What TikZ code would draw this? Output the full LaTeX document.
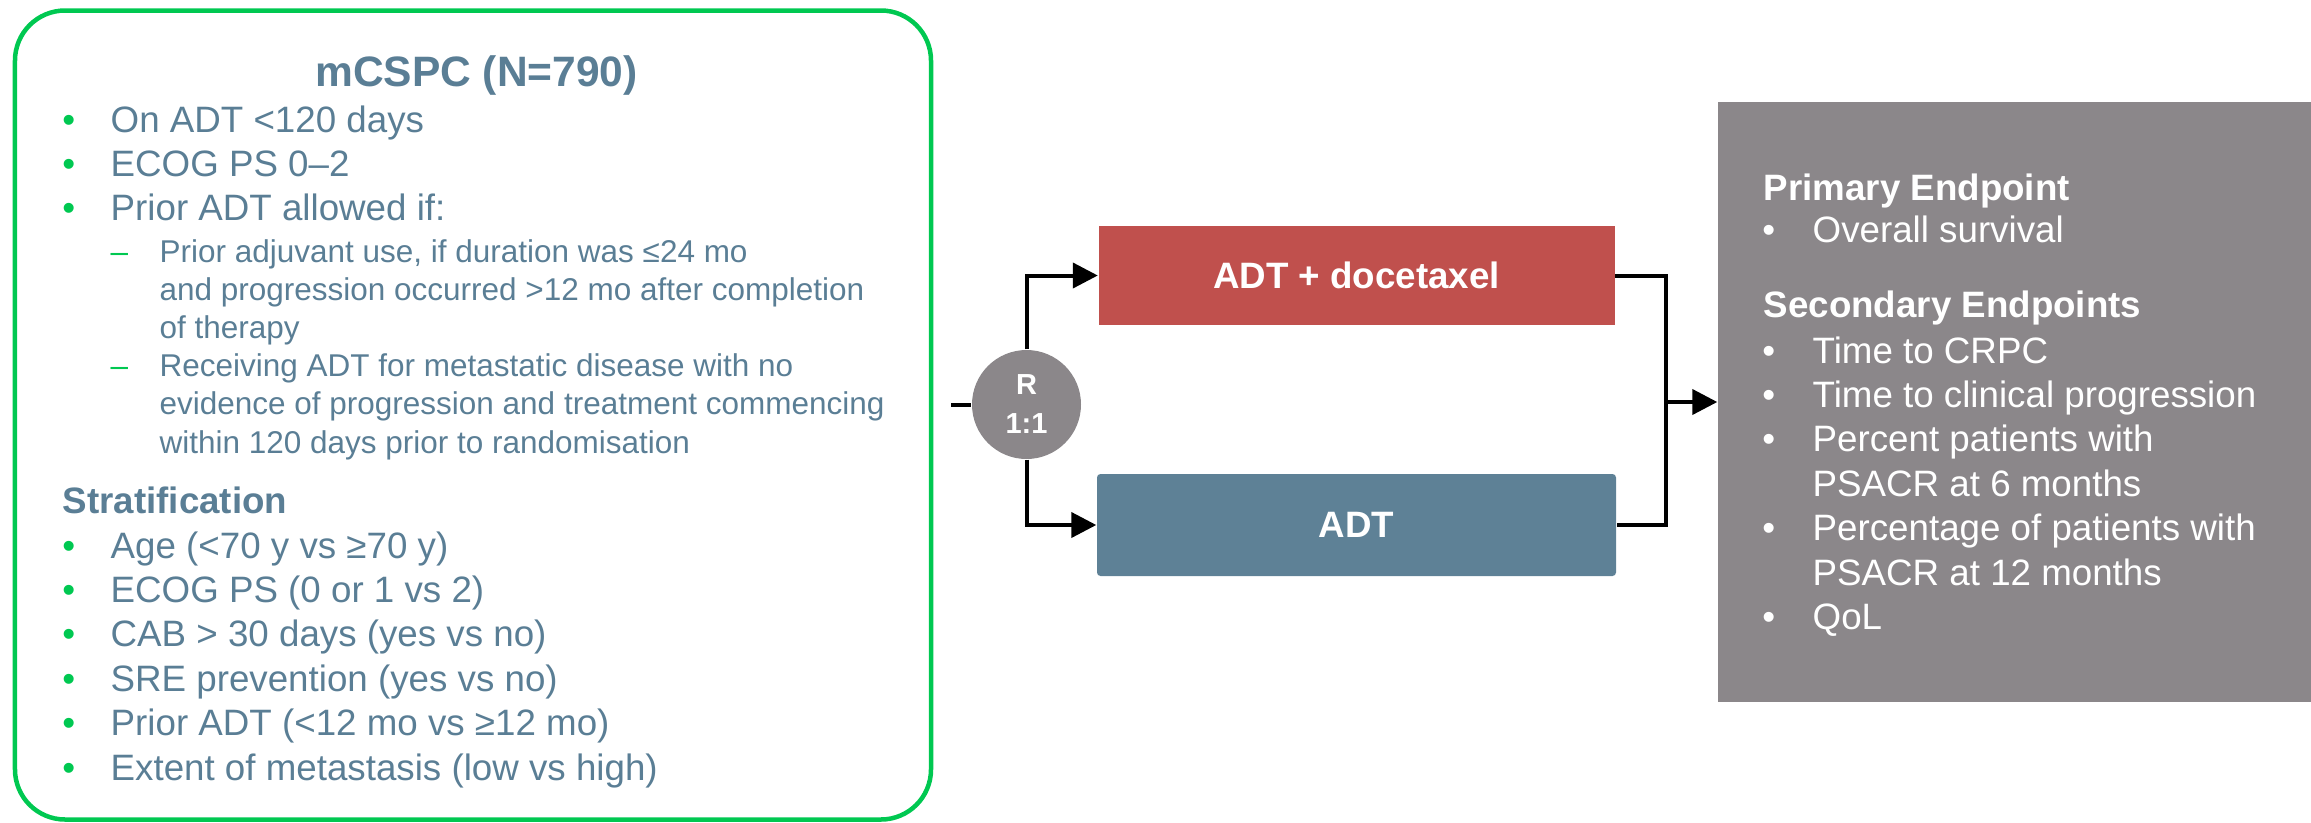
\documentclass[tikz,border=0pt]{standalone}
\usepackage{fontspec}
\setmainfont{Liberation Sans}
\usetikzlibrary{calc,positioning,arrows.meta}

\definecolor{slate}{RGB}{90,126,149}
\definecolor{leafgreen}{RGB}{0,200,81}
\definecolor{armred}{RGB}{192,80,77}
\definecolor{armblue}{RGB}{94,129,150}
\definecolor{stonegrey}{RGB}{139,135,138}

\newcommand{\mainsize}{\fontsize{10.45pt}{12.66pt}\selectfont}
\newcommand{\subsize}{\fontsize{8.96pt}{10.87pt}\selectfont}
\newcommand{\gdot}{\textcolor{leafgreen}{•}}
\newcommand{\gdash}{\textcolor{leafgreen}{–}}

\tikzset{
  txt/.style={inner sep=0pt, anchor=base west, text=slate, font=\mainsize},
  head/.style={txt, font=\mainsize\bfseries},
  arm/.style={rectangle, inner sep=0pt, minimum width=5.16cm, minimum height=0.99cm, text=white, font=\mainsize\bfseries},
  wire/.style={line width=0.04cm},
  link/.style={wire, -{Triangle[length=0.25cm,width=0.25cm]}},
}

\begin{document}
\begin{tikzpicture}
	\useasboundingbox (0,0) rectangle (23.11,-8.22);

	% patient population
	\node[draw=leafgreen, line width=0.045cm, rounded corners=0.5cm, minimum width=9.16cm, minimum height=8.09cm] (panel) at (4.73,-4.15) {};
	\node[txt, anchor=base, font=\fontsize{12.1pt}{14pt}\selectfont\bfseries] (title) at (4.765,-0.86) {mCSPC (N=790)};
	\node[txt] (elig) at (0.616,-1.32) {\begin{tabular}[t]{@{}p{0.484cm}@{}l@{}}
			\gdot & On ADT <120 days\\
			\gdot & ECOG PS 0–2\\
			\gdot & Prior ADT allowed if:
		\end{tabular}};
	\node[txt, font=\subsize] (prior) at (1.10,-2.62) {\begin{tabular}[t]{@{}p{0.49cm}@{}l@{}}
			\gdash & Prior adjuvant use, if duration was ≤24 mo\\
			& and progression occurred >12 mo after completion\\
			& of therapy\\
			\gdash & Receiving ADT for metastatic disease with no\\
			& evidence of progression and treatment commencing\\
			& within 120 days prior to randomisation
		\end{tabular}};
	\node[head] (strat) at (0.62,-5.13) {Stratification};
	\node[txt] (factors) at (0.616,-5.58) {\begin{tabular}[t]{@{}p{0.484cm}@{}l@{}}
			\gdot & Age (<70 y vs ≥70 y)\\
			\gdot & ECOG PS (0 or 1 vs 2)\\
			\gdot & CAB > 30 days (yes vs no)\\
			\gdot & SRE prevention (yes vs no)\\
			\gdot & Prior ADT (<12 mo vs ≥12 mo)\\
			\gdot & Extent of metastasis (low vs high)
		\end{tabular}};

	% randomisation and arms
	\node[circle, fill=stonegrey, minimum size=1.09cm, inner sep=0pt, text=white, align=center, font=\fontsize{8.25pt}{11.1pt}\selectfont\bfseries] (rand) at (10.265,-4.045) {R\\1:1};
	\node[arm, fill=armred] (arm1) at (13.565,-2.755) {ADT + docetaxel};
	\node[arm, fill=armblue, minimum width=5.19cm, minimum height=1.02cm, rounded corners=1pt] (arm2) at (13.565,-5.25) {ADT};

	% endpoints
	\node[fill=stonegrey, inner sep=0pt, minimum width=5.93cm, minimum height=6cm] (endp) at (20.145,-4.02) {};
	\node[head, text=white] (prim) at (17.63,-2.00) {Primary Endpoint};
	\node[txt, text=white] (primlist) at (17.616,-2.42) {\begin{tabular}[t]{@{}p{0.504cm}@{}l@{}}
			• & Overall survival
		\end{tabular}};
	\node[head, text=white] (sec) at (17.63,-3.17) {Secondary Endpoints};
	\node[txt, text=white] (seclist) at (17.616,-3.63) {\begin{tabular}[t]{@{}p{0.504cm}@{}l@{}}
			• & Time to CRPC\\
			• & Time to clinical progression\\
			• & Percent patients with\\
			& PSACR at 6 months\\
			• & Percentage of patients with\\
			& PSACR at 12 months\\
			• & QoL
		\end{tabular}};

	% connectors
	\coordinate (entry) at ($(rand.west)+(-0.2,0)$);
	\coordinate (join) at (16.66,-4.02);
	\draw[wire] (entry) -- (rand.west);
	\draw[link] (rand.north) |- (arm1.west);
	\draw[link] (rand.south) |- (arm2.west);
	\draw[wire] (arm1.east) -| (join) |- (arm2.east);
	\draw[link] (join) -- (endp.west);
\end{tikzpicture}
\end{document}
